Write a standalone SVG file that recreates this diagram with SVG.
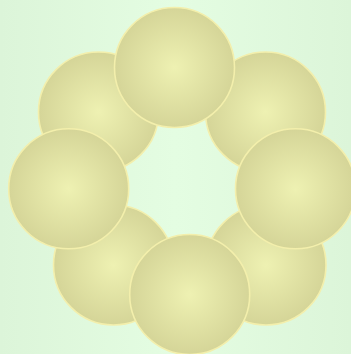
<svg xmlns="http://www.w3.org/2000/svg" width="351" height="354" viewBox="0 0 351 354">
<defs>
<linearGradient id="bg" x1="0" y1="0" x2="1" y2="0">
<stop offset="0" stop-color="#dcf5d9"/>
<stop offset="0.5" stop-color="#e4fde2"/>
<stop offset="1" stop-color="#dcf5d9"/>
</linearGradient>
<radialGradient id="ball" cx="0.5" cy="0.5" r="0.5">
<stop offset="0" stop-color="#eef1b2"/>
<stop offset="1" stop-color="#d5d598"/>
</radialGradient>
</defs>
<style>
.b{fill:url(#ball);stroke:#f3efac;stroke-width:1.6}
</style>
<rect width="351" height="354" fill="url(#bg)"/>
<g id="n-ul"><circle class="b" cx="98.5" cy="112" r="60"/></g>
<g id="n-ur"><circle class="b" cx="265.5" cy="112" r="60"/></g>
<g id="n-ll"><circle class="b" cx="113.5" cy="265" r="60"/></g>
<g id="n-lr"><circle class="b" cx="266" cy="265" r="60"/></g>
<g id="n-top"><circle class="b" cx="174.5" cy="67.5" r="60"/></g>
<g id="n-left"><circle class="b" cx="68.7" cy="188.8" r="60"/></g>
<g id="n-right"><circle class="b" cx="295.5" cy="188.8" r="60"/></g>
<g id="n-bottom"><circle class="b" cx="189.7" cy="294.5" r="60"/></g>
<g id="connectors"/>
</svg>
